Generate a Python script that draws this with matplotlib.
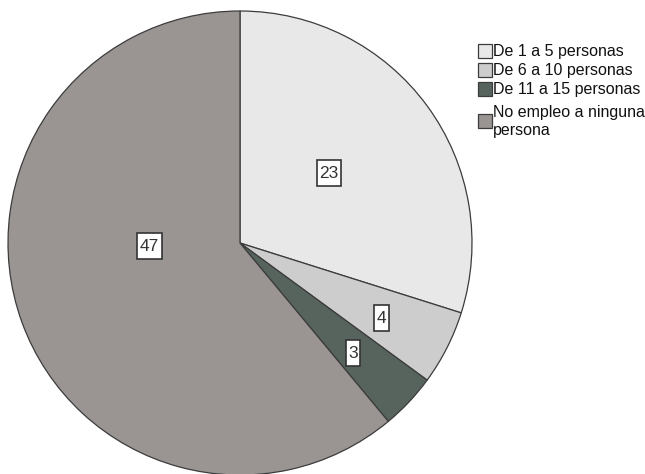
import matplotlib
matplotlib.use("Agg")
import matplotlib.pyplot as plt
import numpy as np
from matplotlib.patches import Rectangle

plt.rcParams['font.family'] = ['Liberation Sans', 'DejaVu Sans']

categories = ["De 1 a 5 personas", "De 6 a 10 personas", "De 11 a 15 personas",
              "No empleo a ninguna\npersona"]
values = [23, 4, 3, 47]
colors = ["#e8e8e8", "#cdcdcd", "#57645e", "#9a9593"]
# label anchor inside each wedge: (fraction of radius, angle in degrees)
label_pos = [(0.49, 38.3), (0.69, -27.8), (0.68, -44.2), (0.39, 181.9)]

W, H = 645, 474
fig = plt.figure(figsize=(W / 100, H / 100), dpi=100)
cx, cy, R = 240, 243, 232
ax = fig.add_axes([(cx - R) / W, (H - cy - R) / H, 2 * R / W, 2 * R / H])

wedges, _ = ax.pie(values, colors=colors, startangle=90, counterclock=False,
                   radius=1, wedgeprops=dict(edgecolor="#3c3c3c", linewidth=0.9))
ax.set_xlim(-1, 1)
ax.set_ylim(-1, 1)
ax.set_aspect('equal')
ax.axis('off')

# overlay axes in pixel units (y downward)
lax = fig.add_axes([0, 0, 1, 1])
lax.set_xlim(0, W)
lax.set_ylim(H, 0)
lax.axis('off')

texts = []
for v, (r, a) in zip(values, label_pos):
    ang = np.deg2rad(a)
    t = ax.text(r * np.cos(ang), r * np.sin(ang), str(v), ha='center', va='center',
                fontsize=12.5, color="#333333", zorder=5)
    texts.append(t)

fig.canvas.draw()
renderer = fig.canvas.get_renderer()
for t in texts:
    bb = t.get_window_extent(renderer)
    xc = (bb.x0 + bb.x1) / 2
    yc = H - (bb.y0 + bb.y1) / 2
    bw = bb.width + 5
    bh = 26
    lax.add_patch(Rectangle((xc - bw / 2, yc - bh / 2), bw, bh, facecolor='white',
                            edgecolor='#333333', linewidth=1.2, zorder=4))
    lax.text(xc, yc + 0.5, t.get_text(), ha='center', va='center',
             fontsize=12.5, color='#333333', zorder=5)
    t.remove()

# legend
rows_y = [51, 70, 89, 121]
for cat, col, y in zip(categories, colors, rows_y):
    lax.add_patch(Rectangle((478, y - 7), 14, 14, facecolor=col,
                            edgecolor='#3c3c3c', linewidth=0.9))
    lax.text(493, y, cat, ha='left', va='center', fontsize=11.5,
             color='#111111', linespacing=1.25)

fig.savefig("out.png", dpi=100)
